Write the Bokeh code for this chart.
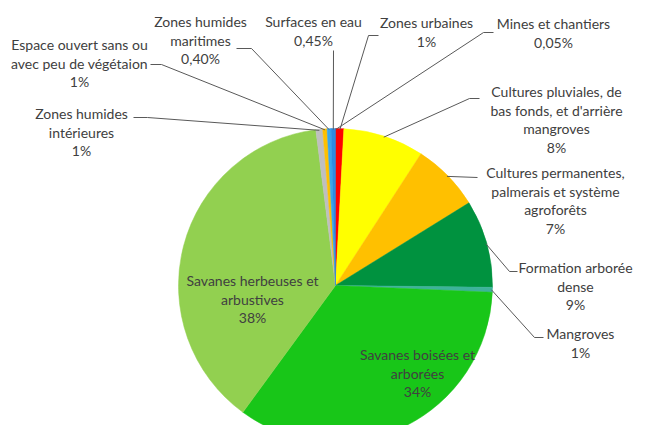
import numpy as np
from bokeh.plotting import figure
from bokeh.models import Range1d
from bokeh.core.properties import value
from bokeh.embed import file_html
from bokeh.resources import INLINE

# ---- data (clockwise from 12 o'clock) ----
categories = [
    "Mines et chantiers", "Zones urbaines",
    "Cultures pluviales, de bas fonds, et d'arrière mangroves",
    "Cultures permanentes, palmerais et système agroforêts",
    "Formation arborée dense", "Mangroves",
    "Savanes boisées et arborées", "Savanes herbeuses et arbustives",
    "Zones humides intérieures", "Espace ouvert sans ou avec peu de végétaion",
    "Zones humides maritimes", "Surfaces en eau",
]
shares = [0.05, 0.8, 8.3, 7.0, 9.0, 0.5, 34.3, 37.9, 0.7, 0.45, 0.4, 0.45]
pct_labels = ["0,05%", "1%", "8%", "7%", "9%", "1%", "34%", "38%", "1%", "1%", "0,40%", "0,45%"]
colors = ["#C00000", "#FF0000", "#FFFF00", "#FFC000", "#00923F", "#3DB39A",
          "#18C618", "#92D050", "#BFBFBF", "#FFC000", "#3AA6EC", "#2E8BE0"]

W, H = 650, 441
M = 8
FW, FH = W - 2 * M, H - 2 * M

def X(ix):
    return ix

def Y(iy):
    return H - iy

cx, cy, R = 335, 285, 157

p = figure(width=FW, height=FH, output_backend="svg",
           toolbar_location=None, x_range=Range1d(0, FW),
           y_range=Range1d(H - FH, H), min_border=0)
p.axis.visible = False
p.grid.visible = False
p.outline_line_color = None
p.background_fill_color = "white"

vals = np.array(shares, dtype=float)
frac = vals / vals.sum()
cum = np.concatenate([[0], np.cumsum(frac)])
start = np.pi / 2 - 2 * np.pi * cum[1:]
end = np.pi / 2 - 2 * np.pi * cum[:-1]
mid = (cum[1:] + cum[:-1]) / 2

p.wedge(x=[X(cx)] * len(vals), y=[Y(cy)] * len(vals), radius=R,
        start_angle=list(start), end_angle=list(end), direction="anticlock",
        fill_color=colors, line_color=colors, line_width=0.5)

def edge(i, rr=R):
    a = 2 * np.pi * mid[i]
    return cx + rr * np.sin(a), cy - rr * np.cos(a)

# leaders: label-side points (image coords), then the slice edge
leaders = {
    0: [(493, 32), (483, 32)],
    1: [(378, 35), (368, 35)],
    2: [(479, 98), (469, 98)],
    3: [(477, 177)],
    4: [(517, 271), (509, 271)],
    5: [(543, 337), (534, 337)],
    8: [(133, 117), (147, 117)],
    9: [(150, 64), (161, 64)],
    10: [(236, 48), (251, 48)],
    11: [(333, 50)],
}
for i, pts in leaders.items():
    ex, ey = edge(i, R - 1)
    allpts = pts + [(ex, ey)]
    p.line([X(a) for a, b in allpts], [Y(b) for a, b in allpts],
           line_color="#595959", line_width=1)

# labels: lines, centre x, first line centre y (image coords)
labels = [
    (["Mines et chantiers", pct_labels[0]], 553, 23),
    (["Zones urbaines", pct_labels[1]], 426, 22),
    (["Cultures pluviales, de", "bas fonds, et d'arrière", "mangroves", pct_labels[2]], 556, 91),
    (["Cultures permanentes,", "palmerais et système", "agroforêts", pct_labels[3]], 555, 172),
    (["Formation arborée", "dense", pct_labels[4]], 575, 267),
    (["Mangroves", pct_labels[5]], 580, 333),
    (["Savanes boisées et", "arborées", pct_labels[6]], 417, 354),
    (["Savanes herbeuses et", "arbustives", pct_labels[7]], 252, 280),
    (["Zones humides", "intérieures", pct_labels[8]], 81, 113),
    (["Espace ouvert sans ou", "avec peu de végétaion", pct_labels[9]], 79, 44),
    (["Zones humides", "maritimes", pct_labels[10]], 200, 21),
    (["Surfaces en eau", pct_labels[11]], 313, 21),
]
step = 18.7
tx, ty, tt = [], [], []
for lines, x0, y0 in labels:
    for k, s in enumerate(lines):
        tx.append(X(x0))
        ty.append(Y(y0 + k * step))
        tt.append(s)
p.text(x=tx, y=ty, text=tt, text_align="center", text_baseline="middle",
       text_font=value("Lato"), text_font_size="14px", text_color="#404040")

open("out.html", "w").write(file_html(p, INLINE))
